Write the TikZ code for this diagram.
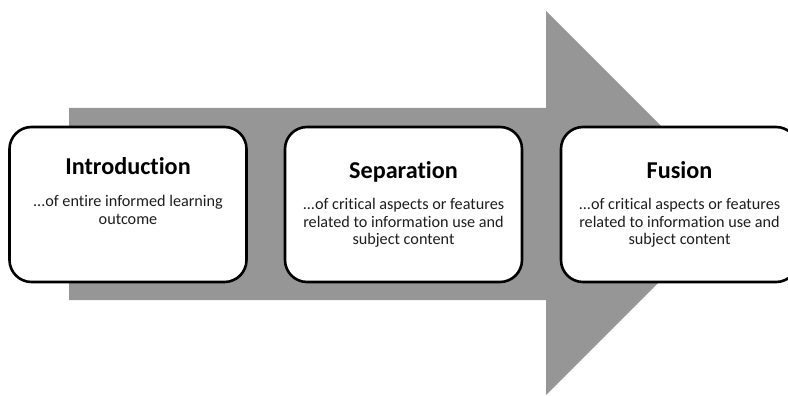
\documentclass[tikz,border=0pt]{standalone}
\usepackage{fontspec}
\setmainfont{Carlito}[Ligatures={NoCommon,NoRare,NoContextual}]
\usepackage{tikz}
\definecolor{arrowgray}{RGB}{150,150,150}
\definecolor{bodytext}{RGB}{30,30,30}

\begin{document}
\begin{tikzpicture}[x=1pt,y=-1pt,
  stage/.style={draw=black,line width=2.6pt,fill=white,rounded corners=22pt,minimum width=237pt,minimum height=155pt,inner sep=0pt},
  stagetitle/.style={anchor=base,inner sep=0pt,font=\fontsize{24.2}{28}\selectfont\bfseries},
  stagetext/.style={anchor=north,inner sep=0pt,align=center,text=bodytext,font=\fontsize{16.2}{17.5}\selectfont}]
  \useasboundingbox (0,0) rectangle (788,396);
  \fill[arrowgray] (69,108) -- (546,108) -- (546,11) -- (738,203) -- (546,395) -- (546,300) -- (69,300) -- cycle;

  \node (Intro) [stage] at (128,204.5) {};
  \node (IntroTitle) [stagetitle] at (Intro.center |- 0,175) {Introduction};
  \node (IntroText) [stagetext] at (Intro.center |- 0,194.5) {\strut...of entire informed learning\\outcome};

  \node (Sep) [stage] at (403.5,204.5) {};
  \node (SepTitle) [stagetitle] at (Sep.center |- 0,178) {Separation};
  \node (SepText) [stagetext] at (Sep.center |- 0,197.5) {\strut...of critical aspects or features\\related to information use and\\subject content};

  \node (Fus) [stage] at (679.5,204.5) {};
  \node (FusTitle) [stagetitle] at (Fus.center |- 0,178) {Fusion};
  \node (FusText) [stagetext] at (Fus.center |- 0,197.5) {\strut...of critical aspects or features\\related to information use and\\subject content};
\end{tikzpicture}
\end{document}
